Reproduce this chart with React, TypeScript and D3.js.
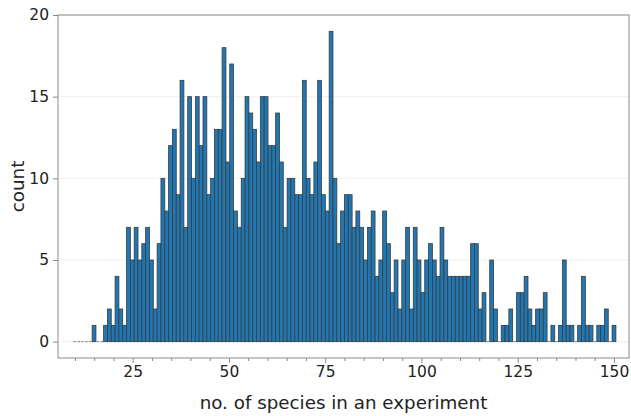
import React, { useEffect, useRef } from 'react';
import * as d3 from 'd3';

// histogram bins: 142 equal bins between binStart and binEnd
const binStart = 9.5;
const binEnd = 150.5;
const counts = [
    0, 0, 0, 0, 0,
    1, 0, 0, 1, 2, 1, 4, 2, 1, 7,
    5, 7, 5, 6, 7, 5, 2, 6, 10, 8,
    12, 13, 9, 16, 7, 15, 10, 15, 12, 15,
    9, 10, 13, 13, 18, 11, 17, 8, 7, 10,
    15, 14, 13, 11, 15, 15, 12, 12, 14, 11,
    7, 10, 10, 9, 9, 16, 10, 9, 11, 16,
    9, 8, 19, 10, 6, 8, 9, 9, 7, 8,
    7, 5, 7, 8, 4, 5, 8, 6, 3, 5,
    2, 5, 7, 2, 7, 5, 3, 5, 6, 5,
    4, 7, 5, 4, 4, 4, 4, 4, 4, 6,
    6, 2, 3, 0, 5, 2, 0, 1, 1, 2,
    0, 3, 3, 4, 2, 1, 2, 2, 3, 0,
    1, 0, 1, 5, 1, 1, 0, 1, 4, 1,
    1, 0, 1, 1, 2, 0, 1
];
const xTicks = [25, 50, 75, 100, 125, 150];
const xMinorTicks = [10, 15, 20, 30, 35, 40, 45, 55, 60, 65, 70, 80, 85, 90, 95, 105, 110, 115, 120, 130, 135, 140, 145];
const yTicks = [0, 5, 10, 15, 20];
const xTitle = "no. of species in an experiment";
const yTitle = "count";

const FONT = "DejaVu Sans, sans-serif";

function Histogram(props) {
    const ref = useRef(null);

    useEffect(() => {
        const svg = d3.select(ref.current);
        svg.selectAll("*").remove();

        const left = 58, right = 629, top = 15, bottom = 358;

        const x = d3.scaleLinear().domain([5.6, 153.9]).range([left, right]);
        const y = d3.scaleLinear().domain([-1, 20]).range([bottom, top]);

        // horizontal grid
        svg.append("g")
            .selectAll("line")
            .data(yTicks)
            .enter()
            .append("line")
            .attr("x1", left)
            .attr("x2", right)
            .attr("y1", d => y(d))
            .attr("y2", d => y(d))
            .attr("stroke", "#ececec")
            .attr("stroke-width", 0.8);

        const bw = (binEnd - binStart) / counts.length;
        const bins = counts.map((c, i) => ({ x0: binStart + i * bw, x1: binStart + (i + 1) * bw, c }));

        const g = svg.append("g");
        g.selectAll(".bar")
            .data(bins.filter(d => d.c > 0))
            .enter()
            .append("rect")
            .attr("class", "bar")
            .attr("x", d => x(d.x0))
            .attr("y", d => y(d.c))
            .attr("width", d => x(d.x1) - x(d.x0))
            .attr("height", d => y(0) - y(d.c))
            .attr("fill", "#1f77b4")
            .attr("stroke", "#3b3b3b")
            .attr("stroke-width", 0.8);

        // empty bins show only their edge
        g.selectAll(".empty")
            .data(bins.filter(d => d.c === 0))
            .enter()
            .append("line")
            .attr("class", "empty")
            .attr("x1", d => x(d.x0) + 0.6)
            .attr("x2", d => x(d.x1) - 0.6)
            .attr("y1", y(0))
            .attr("y2", y(0))
            .attr("stroke", "#666")
            .attr("stroke-width", 0.8);

        // frame
        svg.append("rect")
            .attr("x", left)
            .attr("y", top)
            .attr("width", right - left)
            .attr("height", bottom - top)
            .attr("fill", "none")
            .attr("stroke", "#8a8a8a")
            .attr("stroke-width", 1);

        const xAxis = svg.append("g")
            .attr("transform", `translate(0,${bottom})`)
            .call(d3.axisBottom(x).tickValues(xTicks).tickSize(5).tickPadding(3));
        svg.append("g")
            .attr("transform", `translate(0,${bottom})`)
            .call(d3.axisBottom(x).tickValues(xMinorTicks).tickSize(3).tickFormat(() => ""))
            .call(a => a.select(".domain").remove())
            .selectAll("line").attr("stroke", "#8a8a8a");

        const yAxis = svg.append("g")
            .attr("transform", `translate(${left},0)`)
            .call(d3.axisLeft(y).tickValues(yTicks).tickSize(5).tickPadding(4));

        [xAxis, yAxis].forEach(a => {
            a.select(".domain").remove();
            a.selectAll("line").attr("stroke", "#8a8a8a");
            a.selectAll("text")
                .attr("fill", "#222")
                .style("font-family", FONT)
                .style("font-size", "15.5px");
        });

        svg.append("text")
            .attr("x", (left + right) / 2)
            .attr("y", 409)
            .attr("text-anchor", "middle")
            .style("font-family", FONT)
            .style("font-size", "18.3px")
            .attr("fill", "#222")
            .text(xTitle);

        svg.append("text")
            .attr("transform", `translate(24,${(top + bottom) / 2}) rotate(-90)`)
            .attr("text-anchor", "middle")
            .style("font-family", FONT)
            .style("font-size", "18.3px")
            .attr("fill", "#222")
            .text(yTitle);
    });

    return (
        <svg
            ref={ref}
            width={props.width}
            height={props.height}
            style={{ position: "absolute", left: 0, top: 0, background: "#fff" }}
        ></svg>
    );
}

export default function App() {
    return <Histogram width={631} height={416} />;
}
